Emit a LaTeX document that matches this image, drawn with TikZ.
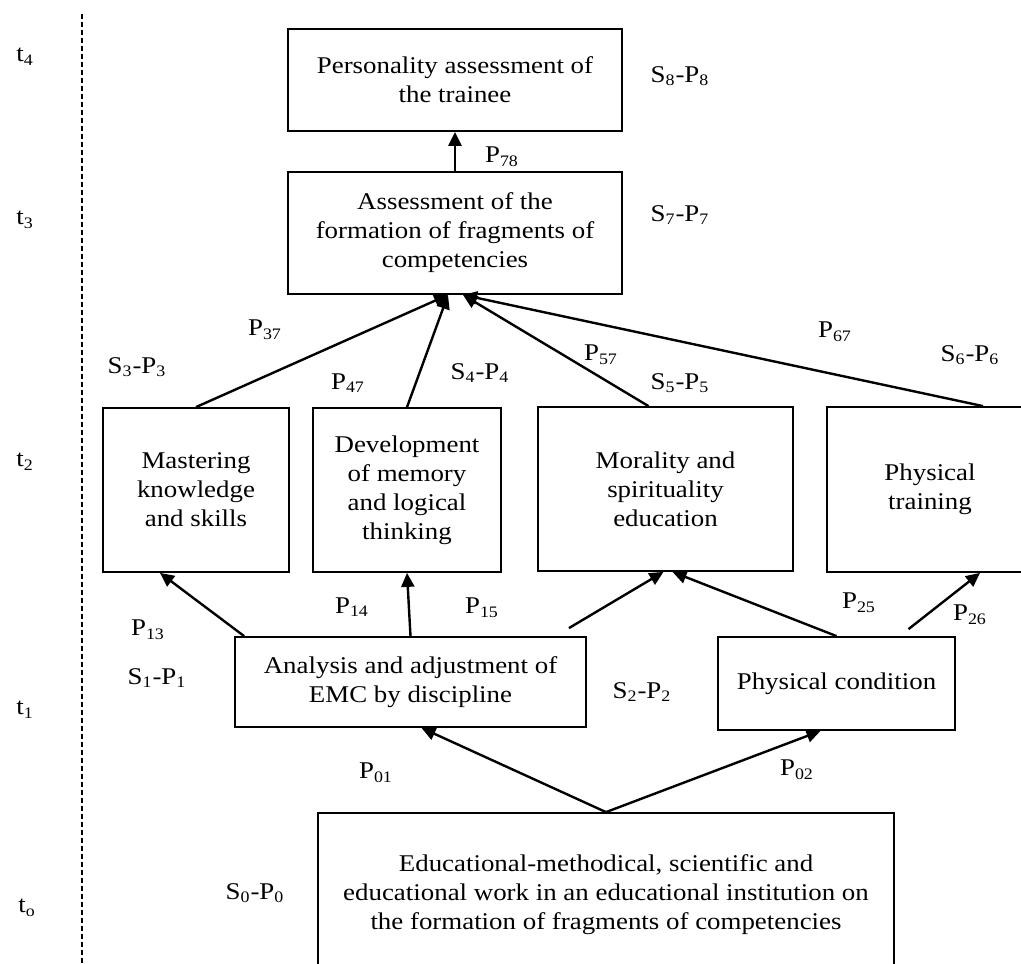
\documentclass[tikz,border=0pt]{standalone}
\usepackage{fontspec}
\setmainfont[FakeStretch=1.12]{Liberation Serif}
\usetikzlibrary{arrows.meta,calc}
\newcommand{\stage}[1]{S\textsubscript{#1}-P\textsubscript{#1}}
\newcommand{\trans}[1]{P\textsubscript{#1}}

\begin{document}
\begin{tikzpicture}[x=0.5pt, y=-0.5pt,
    every node/.style={font=\fontsize{12}{14.5}\selectfont},
    stagebox/.style={draw, line width=0.9pt, align=center, inner sep=0pt},
    flow/.style={line width=1.2pt, -{Triangle[length=7pt,width=6.5pt]}},
    lbl/.style={inner sep=0pt}]
    \useasboundingbox (0,0) rectangle (1021,963);
    \clip (0,0) rectangle (1021,963);

    % --- Time axis ---
    \draw[line width=0.8pt, dash pattern=on 2.5pt off 1.5pt] (82,14) -- (82,963);
    \node[lbl] (t4) at (25,57)  {t\textsubscript{4}};
    \node[lbl] (t3) at (25,220) {t\textsubscript{3}};
    \node[lbl] (t2) at (25,462) {t\textsubscript{2}};
    \node[lbl] (t1) at (25,710) {t\textsubscript{1}};
    \node[lbl] (t0) at (27,908) {t\textsubscript{o}};

    % --- Stages ---
    \node[stagebox, minimum width=167pt, minimum height=51pt] (pers) at (455,80)
        {Personality assessment of\\ the trainee};
    \node[stagebox, minimum width=167pt, minimum height=61pt] (assess) at (455,233)
        {Assessment of the\\ formation of fragments of\\ competencies};
    \node[stagebox, minimum width=93pt, minimum height=82pt] (master) at (196,490)
        {Mastering\\ knowledge\\ and skills};
    \node[stagebox, minimum width=94pt, minimum height=82pt] (devel) at (407,490)
        {Development\\ of memory\\ and logical\\ thinking};
    \node[stagebox, minimum width=127.5pt, minimum height=82pt] (moral) at (665.5,489)
        {Morality and\\ spirituality\\ education};
    \node[stagebox, minimum width=103pt, minimum height=82.5pt] (phystr) at (930,489.5)
        {Physical\\ training};
    \node[stagebox, minimum width=175.5pt, minimum height=45pt] (analysis) at (410.5,682)
        {Analysis and adjustment of\\ EMC by discipline};
    \node[stagebox, minimum width=118.5pt, minimum height=46.5pt] (cond) at (836.5,683.5)
        {Physical condition};
    \node[stagebox, minimum width=288pt, minimum height=82pt] (base) at (606,895)
        {Educational-methodical, scientific and\\ educational work in an educational institution on\\ the formation of fragments of competencies};

    % --- Transitions ---
    \draw[flow] (assess.north) -- (pers.south);
    \draw[flow] (master.north) -- ($(assess.south)+(-7,0)$);
    \draw[flow] (devel.north) -- ($(assess.south)+(-7,0)$);
    \draw[flow] ($(moral.north)+(-17,0)$) -- ($(assess.south)+(8,0)$);
    \draw[flow] ($(phystr.north)+(53,0)$) -- ($(assess.south)+(8,0)$);
    \draw[flow] ($(analysis.north west)+(10,0)$) -- ($(master.south)+(-36,0)$);
    \draw[flow] (analysis.north) -- (devel.south);
    \draw[flow] ($(analysis.north east)+(-18,-8)$) -- ($(moral.south)+(-2,0)$);
    \draw[flow] (cond.north) -- ($(moral.south)+(7,0)$);
    \draw[flow] ($(cond.north)+(72,-7)$) -- ($(phystr.south)+(50,0)$);
    \draw[flow] (base.north) -- ($(analysis.south)+(11,0)$);
    \draw[flow] (base.north) -- ($(cond.south)+(-16,0)$);

    % --- Labels ---
    \node[lbl] (s8) at (680,76)  {\stage{8}};
    \node[lbl] (p78) at (502,157) {\trans{78}};
    \node[lbl] (s7) at (680,215) {\stage{7}};
    \node[lbl] (p37) at (265,330) {\trans{37}};
    \node[lbl] (s3) at (137,367) {\stage{3}};
    \node[lbl] (p47) at (348,383) {\trans{47}};
    \node[lbl] (s4) at (480,373) {\stage{4}};
    \node[lbl] (p57) at (601,355) {\trans{57}};
    \node[lbl] (s5) at (680,383) {\stage{5}};
    \node[lbl] (p67) at (835,332) {\trans{67}};
    \node[lbl] (s6) at (970,355) {\stage{6}};
    \node[lbl] (p13) at (148,630) {\trans{13}};
    \node[lbl] (s1) at (157,678) {\stage{1}};
    \node[lbl] (p14) at (352,607) {\trans{14}};
    \node[lbl] (p15) at (482,608) {\trans{15}};
    \node[lbl] (s2) at (642,692) {\stage{2}};
    \node[lbl] (p25) at (859,603) {\trans{25}};
    \node[lbl] (p26) at (970,615) {\trans{26}};
    \node[lbl] (p01) at (376,773) {\trans{01}};
    \node[lbl] (p02) at (797,770) {\trans{02}};
    \node[lbl] (s0) at (255,893) {\stage{0}};
\end{tikzpicture}
\end{document}
